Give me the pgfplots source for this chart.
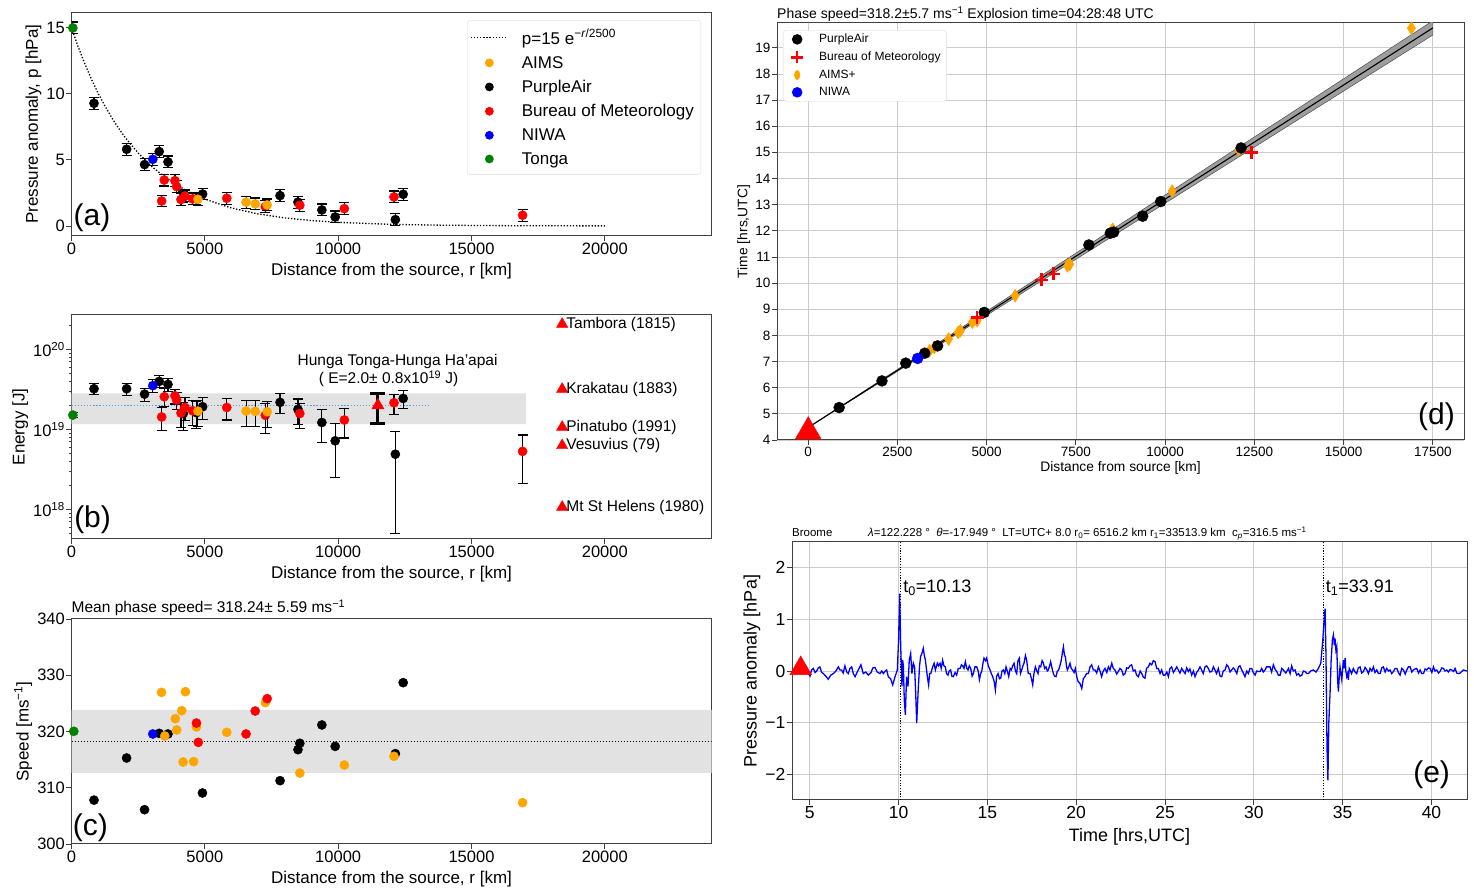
\documentclass[border=0pt]{standalone}
\usepackage{pgfplots}
\pgfplotsset{compat=1.18}
\usepackage{fontspec}
\setmainfont{Liberation Sans}
\definecolor{aims}{HTML}{FFA500}
\definecolor{bom}{HTML}{FF0000}
\definecolor{niwa}{HTML}{0000FF}
\definecolor{tonga}{HTML}{008000}
\definecolor{band}{HTML}{E2E2E2}
\definecolor{spine}{HTML}{404040}
\definecolor{meanline}{HTML}{5A9FD4}
\newcommand\fs[1]{\fontsize{#1}{#1}\selectfont}

\pgfplotsset{
  panel/.style={scale only axis, anchor=south west,
    axis line style={spine, line width=1pt},
    tick style={spine, line width=0.9pt}, major tick length=5pt,
    tick align=outside, tick pos=left,
    scaled ticks=false,
    /pgf/number format/assume math mode=true,
    /pgf/number format/1000 sep={},
    clip mode=individual,
    every axis title shift=0pt,
    tick label style={font=\fs{16.5}, inner sep=1.5pt},
    label style={font=\fs{17}},
    xlabel style={yshift=-4pt}},
  dot/.style={only marks, mark=*, mark size=4.6pt, color=#1, forget plot},
  errA/.style={error bars/y dir=both, error bars/y fixed=0.45,
    error bars/error mark=-,
    error bars/error bar style={black, line width=1.1pt},
    error bars/error mark options={black, line width=1.1pt, mark size=5pt, rotate=90}},
  errB/.style={error bars/y dir=both, error bars/y explicit,
    error bars/error mark=-,
    error bars/error bar style={black, line width=1.1pt},
    error bars/error mark options={black, line width=1.1pt, mark size=5pt, rotate=90}},
}

\begin{document}
\begin{tikzpicture}
\useasboundingbox (0,0) rectangle (1474pt,888pt);

% ---------------- (a) pressure anomaly
\begin{axis}[panel, at={(71.5pt,652pt)}, width=640pt, height=223.5pt,
  xmin=0, xmax=24000, ymin=-0.76, ymax=16.17,
  xtick={0,5000,10000,15000,20000}, ytick={0,5,10,15},
  xlabel={Distance from the source, r [km]},
  ylabel={Pressure anomaly, p [hPa]},
  legend style={at={(0.618,0.966)}, anchor=north west, draw=black!15,
    rounded corners=3pt, font=\fs{17}, row sep=4.5pt, inner ysep=6pt,
    nodes={inner ysep=3pt, inner xsep=4pt}},
  legend cell align=left]
\addplot[black, line width=1.3pt, dash pattern=on 1.3pt off 1.8pt, forget plot] coordinates {
 (0,15) (250,13.57) (500,12.28) (750,11.11) (1000,10.05) (1250,9.10) (1500,8.23)
 (1750,7.45) (2000,6.74) (2500,5.52) (3000,4.52) (3500,3.70) (4000,3.03) (4500,2.48)
 (5000,2.03) (6000,1.36) (7000,0.91) (8000,0.61) (9000,0.41) (10000,0.27) (12000,0.12)
 (14000,0.055) (16000,0.025) (18000,0.011) (20000,0.005)};
\addplot[dot=black, errA] coordinates {(844,9.29) (2067,5.81) (2739,4.65) (3290,5.63)
 (3618,4.85) (4191,2.2) (4686,2.05) (4917,2.42) (7820,2.3) (8492,1.8) (9388,1.21)
 (9888,0.68) (12145,0.48) (12438,2.4)};
\addplot[dot=niwa, errA] coordinates {(3049,5.05)};
\addplot[dot=bom, errA] coordinates {(3381,1.89) (3479,3.48) (3880,3.43) (3943,2.98)
 (4105,2.0) (4255,2.27) (4542,2.05) (5823,2.1) (7269,1.46) (8561,1.57) (10232,1.31)
 (12093,2.2) (16916,0.81)};
\addplot[dot=aims, errA] coordinates {(4741,2.02) (6546,1.8) (6890,1.67) (7338,1.59)};
\addplot[dot=tonga, errA] coordinates {(50,15.0)};
\addlegendimage{legend image code/.code={\path[draw=none,fill=none] (0pt,0pt) -- (47pt,0pt);
  \draw[black, solid, line width=1.3pt, dash pattern=on 1.3pt off 1.8pt] (0pt,0pt) -- (37pt,0pt);}}
\addlegendentry{p=15 e\textsuperscript{−\textit{r}/2500}}
\addlegendimage{legend image code/.code={\path[draw=none,fill=none] (0pt,0pt) -- (47pt,0pt); \fill[aims,draw=none] (18.5pt,0pt) circle (4.4pt);}}
\addlegendentry{AIMS}
\addlegendimage{legend image code/.code={\path[draw=none,fill=none] (0pt,0pt) -- (47pt,0pt); \fill[black,draw=none] (18.5pt,0pt) circle (4.4pt);}}
\addlegendentry{PurpleAir}
\addlegendimage{legend image code/.code={\path[draw=none,fill=none] (0pt,0pt) -- (47pt,0pt); \fill[bom,draw=none] (18.5pt,0pt) circle (4.4pt);}}
\addlegendentry{Bureau of Meteorology}
\addlegendimage{legend image code/.code={\path[draw=none,fill=none] (0pt,0pt) -- (47pt,0pt); \fill[niwa,draw=none] (18.5pt,0pt) circle (4.4pt);}}
\addlegendentry{NIWA}
\addlegendimage{legend image code/.code={\path[draw=none,fill=none] (0pt,0pt) -- (47pt,0pt); \fill[tonga,draw=none] (18.5pt,0pt) circle (4.4pt);}}
\addlegendentry{Tonga}
\node[anchor=base west, font=\fs{30}, inner sep=0pt] at (rel axis cs:0.003,0.045) {(a)};
\end{axis}

% ---------------- (b) energy
\begin{axis}[panel, at={(71.5pt,349pt)}, width=640pt, height=224pt,
  xmin=0, xmax=24000, ymode=log, ymin=0.0427, ymax=26.9,
  xtick={0,5000,10000,15000,20000},
  ytick={0.1,1,10}, yticklabels={10\textsuperscript{18},10\textsuperscript{19},10\textsuperscript{20}},
  minor ytick={0.05,0.06,0.07,0.08,0.09,0.2,0.3,0.4,0.5,0.6,0.7,0.8,0.9,2,3,4,5,6,7,8,9,20},
  minor tick length=2.5pt,
  xlabel={Distance from the source, r [km]},
  ylabel={Energy [J]}]
\addplot[fill=band, draw=none, forget plot] coordinates {(0,1.16) (17050,1.16) (17050,2.82) (0,2.82) (0,1.16)};
\addplot[color=meanline, line width=1.3pt, dash pattern=on 1.3pt off 1.8pt, forget plot] coordinates {(0,2.0) (13470,2.0)};
\addplot[dot=black, errB] coordinates {
 (844,3.22) +- (0,0.5) (2067,3.22) +- (0,0.57) (2739,2.76) +- (0,0.5)
 (3290,3.98) +- (0,0.68) (3618,3.65) +- (0,0.67) (4191,1.58) +- (0,0.6)
 (4686,1.62) +- (0,0.6) (4917,1.92) +- (0,0.6) (7820,2.18) +- (0,0.6)
 (8492,1.78) +- (0,0.62) (9388,1.22) +- (0,0.54) (9888,0.72) +- (0,0.47)
 (12145,0.49) +- (0,0.44) (12438,2.44) +- (0,0.63)};
\addplot[dot=niwa, errB] coordinates {(3049,3.52) +- (0,0.66)};
\addplot[dot=bom, errB] coordinates {
 (3381,1.43) +- (0,0.47) (3479,2.56) +- (0,0.65) (3880,2.63) +- (0,0.55)
 (3943,2.33) +- (0,0.55) (4105,1.60) +- (0,0.55) (4255,1.88) +- (0,0.6)
 (4542,1.71) +- (0,0.6) (5823,1.88) +- (0,0.57) (7269,1.50) +- (0,0.6)
 (8561,1.58) +- (0,0.55) (10232,1.31) +- (0,0.53) (12093,2.15) +- (0,0.6)
 (16916,0.531) +- (0,0.32)};
\addplot[dot=aims, errB] coordinates {
 (4741,1.69) +- (0,0.6) (6546,1.70) +- (0,0.6) (6890,1.68) +- (0,0.6) (7338,1.66) +- (0,0.6)};
\addplot[dot=tonga, errB] coordinates {(50,1.51) +- (0,0.1)};
\addplot[only marks, mark=triangle*, mark size=7pt, color=bom,
  forget plot, error bars/y dir=both, error bars/y explicit, error bars/error mark=-,
  error bars/error bar style={black, line width=3pt},
  error bars/error mark options={black, line width=3pt, mark size=7.5pt, rotate=90}]
  coordinates {(11490,2.0) +- (0,0.8)};
\addplot[only marks, mark=triangle*, mark size=6.5pt, color=bom,
  forget plot, nodes near coords, point meta=explicit symbolic,
  nodes near coords style={anchor=west, text=black, font=\fs{15.5}, inner sep=1pt, xshift=3pt}]
  coordinates {(18400,20.7) [Tambora (1815)] (18400,3.19) [Krakatau (1883)]
   (18400,1.07) [Pinatubo (1991)] (18400,0.63) [Vesuvius (79)] (18400,0.107) [Mt St Helens (1980)]};
\node[font=\fs{15.5}] at (axis cs:12230,7.0) {Hunga Tonga-Hunga Ha'apai};
\node[font=\fs{15.5}] at (axis cs:11890,4.25) {( E=2.0± 0.8x10\textsuperscript{19} J)};
\node[anchor=base west, font=\fs{30}, inner sep=0pt] at (rel axis cs:0.004,0.05) {(b)};
\end{axis}

% ---------------- (c) speed
\begin{axis}[panel, at={(71.5pt,44pt)}, width=640pt, height=225pt,
  xmin=0, xmax=24000, ymin=300, ymax=340,
  xtick={0,5000,10000,15000,20000}, ytick={300,310,320,330,340},
  xlabel={Distance from the source, r [km]},
  ylabel={Speed [ms\textsuperscript{−1}]},
  title={Mean phase speed= 318.24± 5.59 ms\textsuperscript{−1}},
  title style={at={(0,1)}, anchor=south west, font=\fs{15.5}, inner xsep=0pt, inner ysep=3pt}]
\addplot[fill=band, draw=none, forget plot] coordinates {(0,312.65) (24000,312.65) (24000,323.83) (0,323.83) (0,312.65)};
\addplot[black, line width=1.4pt, dash pattern=on 1.4pt off 1.6pt, forget plot] coordinates {(0,318.24) (24000,318.24)};
\addplot[dot=black] coordinates {(844,307.8) (2067,315.29) (2739,306.1) (3290,319.67) (3618,319.56)
 (4910,309.07) (7821,311.26) (8493,316.77) (8562,317.9) (9388,321.16) (9888,317.36)
 (12145,316.06) (12438,328.68)};
\addplot[dot=niwa] coordinates {(3049,319.56)};
\addplot[dot=aims] coordinates {(3376,326.96) (3497,319.2) (3893,322.28) (3945,320.27) (4134,323.7)
 (4186,314.58) (4272,327.08) (4582,314.64) (4686,320.8) (5823,319.85) (7270,325.13)
 (8562,312.62) (10232,314.04) (12093,315.59) (16916,307.35)};
\addplot[dot=bom] coordinates {(4686,321.5) (4755,318.07) (6546,319.56) (6890,323.64) (7338,325.84)};
\addplot[dot=tonga] coordinates {(86,320.03)};
\node[anchor=base west, font=\fs{30}, inner sep=0pt] at (rel axis cs:0.002,0.04) {(c)};
\end{axis}

% ---------------- (d) travel time
\begin{axis}[panel, at={(777pt,448pt)}, width=687pt, height=417pt,
  xmin=-875, xmax=18375, ymin=4, ymax=19.95,
  xtick={0,2500,5000,7500,10000,12500,15000,17500},
  ytick={4,5,...,19},
  grid=major, grid style={gray!40, line width=0.8pt},
  tick label style={font=\fs{13.5}, inner sep=1.5pt},
  label style={font=\fs{13.8}}, xlabel style={yshift=4pt},
  xlabel={Distance from source [km]},
  ylabel={Time [hrs,UTC]},
  title={Phase speed=318.2±5.7 ms\textsuperscript{−1} Explosion time=04:28:48 UTC},
  title style={at={(0,1)}, anchor=south west, font=\fs{14}, inner xsep=0pt, inner ysep=1pt},
  legend style={at={(0.0087,0.983)}, anchor=north west, draw=black!15,
    rounded corners=3pt, font=\fs{12}, row sep=3.5pt,
    nodes={inner ysep=2pt, inner xsep=3pt}},
  legend cell align=left]
\addplot[fill=black!38, draw=black!70, line width=0.5pt, forget plot] coordinates {(0,4.48) (17500,20.036) (17500,19.488) (0,4.48)};
\addplot[black, line width=1.1pt, forget plot] coordinates {(0,4.48) (17500,19.76)};
\addplot[only marks, mark=triangle*, mark size=15pt, color=bom, mark options={fill=bom, draw=none}, forget plot]
  coordinates {(0,4.32)};
\addplot[only marks, mark=diamond*, mark size=6.5pt, color=aims, mark options={xscale=0.85, fill=aims, draw=none}, forget plot]
  coordinates {(3399,7.41) (3532,7.54) (3932,7.86) (4198,8.11) (4265,8.18) (4598,8.50)
   (4731,8.56) (5798,9.52) (7264,10.66) (7330,10.72) (8530,12.06) (10196,13.52)
   (12062,15.10) (16900,19.75)};
\addplot[only marks, mark=*, mark size=5.5pt, color=black, mark options={fill=black, draw=none}, forget plot]
  coordinates {(866,5.24) (2066,6.26) (2732,6.94) (3265,7.32) (3625,7.60) (4931,8.88)
   (7864,11.46) (8464,11.91) (8560,11.95) (9370,12.56) (9876,13.12) (12129,15.17)};
\addplot[only marks, mark=+, mark size=6.5pt, color=bom, line width=2.8pt, forget plot]
  coordinates {(4731,8.69) (6531,10.12) (6864,10.35) (12422,14.99)};
\addplot[only marks, mark=*, mark size=5.5pt, color=niwa, mark options={fill=niwa, draw=none}, forget plot]
  coordinates {(3065,7.12)};
\addlegendimage{legend image code/.code={\path[draw=none,fill=none] (0pt,0pt) -- (30pt,0pt); \fill[black,draw=none] (11pt,0pt) circle (5.3pt);}}
\addlegendentry{PurpleAir}
\addlegendimage{legend image code/.code={\path[draw=none,fill=none] (0pt,0pt) -- (30pt,0pt);
  \draw[bom, solid, line width=2.6pt] (5pt,0pt) -- (17pt,0pt) (11pt,-6pt) -- (11pt,6pt);}}
\addlegendentry{Bureau of Meteorology}
\addlegendimage{legend image code/.code={\path[draw=none,fill=none] (0pt,0pt) -- (30pt,0pt);
  \fill[aims,draw=none] (11pt,-6.5pt) -- (15pt,0pt) -- (11pt,6.5pt) -- (7pt,0pt) -- cycle;}}
\addlegendentry{AIMS+}
\addlegendimage{legend image code/.code={\path[draw=none,fill=none] (0pt,0pt) -- (30pt,0pt); \fill[niwa,draw=none] (11pt,0pt) circle (5.3pt);}}
\addlegendentry{NIWA}
\node[anchor=base east, font=\fs{30}, inner sep=0pt] at (rel axis cs:0.987,0.036) {(d)};
\end{axis}

% ---------------- (e) Broome barogram
\begin{axis}[panel, at={(792pt,88pt)}, width=675pt, height=258pt,
  xmin=4, xmax=42, ymin=-2.5, ymax=2.5,
  xtick={5,10,...,40}, ytick={-2,-1,0,1,2}, yticklabels={−2,−1,0,1,2},
  grid=major, grid style={gray!40, line width=0.8pt},
  tick label style={font=\fs{17.5}, inner sep=1.5pt},
  label style={font=\fs{18}},
  xlabel={Time [hrs,UTC]},
  ylabel={Pressure anomaly [hPa]}]
\addplot[black, line width=1.2pt, dash pattern=on 1.2pt off 1.5pt, forget plot] coordinates {(10.13,-2.5) (10.13,2.5)};
\addplot[black, line width=1.2pt, dash pattern=on 1.2pt off 1.5pt, forget plot] coordinates {(33.91,-2.5) (33.91,2.5)};
\addplot[niwa, line width=1.3pt, forget plot] coordinates {
(4.0,0.02) (4.2,-0.02) (4.5,0.0) (4.8,0.03) (5.01,-0.1) (5.1,0.02) (5.2,0.05) (5.3,-0.03)
(5.39,0.0) (5.48,0.06) (5.57,0.08) (5.66,-0.02) (5.76,-0.05) (5.9,-0.1) (6.04,-0.16)
(6.18,-0.08) (6.33,-0.05) (6.47,0.0) (6.61,0.08) (6.7,0.02) (6.79,0.02) (6.88,-0.04)
(6.98,0.1) (7.08,-0.02) (7.17,-0.05) (7.26,0.05) (7.36,0.08) (7.45,-0.05) (7.55,-0.11)
(7.7,0.0) (7.88,0.12) (8.01,-0.05) (8.15,-0.02) (8.3,-0.08) (8.45,-0.03) (8.55,0.06)
(8.67,0.07) (8.8,-0.02) (8.95,-0.05) (9.05,0.0) (9.14,-0.05) (9.25,0.0) (9.33,0.02)
(9.42,-0.11) (9.55,-0.15) (9.67,-0.27) (9.8,-0.11) (9.93,0.02) (10.0,0.6) (10.06,1.5)
(10.12,0.47) (10.19,-0.3) (10.23,0.21) (10.27,0.1) (10.32,-0.56) (10.38,-0.85)
(10.45,-0.11) (10.53,-0.3) (10.6,0.21) (10.68,0.34) (10.75,-0.05) (10.83,0.15)
(10.9,0.08) (10.96,-0.4) (11.02,-1.01) (11.1,-0.4) (11.18,0.1) (11.24,0.28) (11.32,0.35)
(11.39,0.44) (11.45,0.3) (11.51,0.21) (11.62,-0.11) (11.69,-0.27) (11.75,-0.05)
(11.81,-0.05) (11.92,0.08) (12.0,0.15) (12.07,0.02) (12.18,0.15) (12.25,0.1) (12.33,0.15)
(12.4,0.05) (12.48,0.21) (12.55,0.1) (12.63,0.08) (12.7,-0.05) (12.78,-0.08) (12.85,0.0)
(12.93,0.02) (13.0,-0.1) (13.08,-0.11) (13.18,-0.03) (13.27,-0.08) (13.36,0.05)
(13.46,0.05) (13.54,0.12) (13.61,0.1) (13.68,0.05) (13.76,0.18) (13.84,0.05) (13.91,0.02)
(13.98,0.1) (14.06,0.05) (14.14,-0.1) (14.21,-0.05) (14.3,0.08) (14.4,0.08) (14.48,0.0)
(14.55,-0.17) (14.62,-0.05) (14.68,-0.01) (14.75,0.15) (14.81,0.25) (14.9,0.2)
(14.96,0.25) (15.05,0.1) (15.15,0.02) (15.22,-0.05) (15.3,-0.11) (15.38,-0.2)
(15.45,-0.37) (15.52,-0.1) (15.6,-0.05) (15.68,-0.15) (15.75,-0.14) (15.82,0.0)
(15.9,0.02) (15.98,-0.05) (16.05,0.08) (16.12,0.0) (16.2,-0.11) (16.28,0.05) (16.35,0.02)
(16.42,0.1) (16.5,0.15) (16.58,0.0) (16.65,-0.05) (16.72,0.2) (16.8,0.25) (16.86,-0.05)
(16.93,0.02) (17.0,0.1) (17.06,0.15) (17.14,0.3) (17.21,0.21) (17.3,-0.05) (17.4,-0.05)
(17.48,-0.15) (17.55,-0.27) (17.62,-0.05) (17.7,0.08) (17.78,0.0) (17.85,-0.05)
(17.92,0.1) (18.0,0.08) (18.08,0.2) (18.15,0.16) (18.22,0.05) (18.3,0.08) (18.37,0.0)
(18.43,0.02) (18.5,0.1) (18.56,0.18) (18.64,0.05) (18.71,-0.05) (18.78,-0.1) (18.86,-0.11)
(18.94,0.0) (19.01,0.02) (19.08,0.1) (19.16,0.21) (19.22,0.35) (19.28,0.47) (19.34,0.3)
(19.39,0.28) (19.45,0.1) (19.5,0.02) (19.58,0.08) (19.65,0.15) (19.72,0.05) (19.8,0.02)
(19.88,-0.03) (19.95,0.05) (20.03,-0.11) (20.1,-0.2) (20.21,-0.24) (20.31,-0.34)
(20.4,-0.15) (20.49,-0.11) (20.58,-0.05) (20.68,-0.05) (20.78,0.08) (20.87,0.12)
(20.96,0.02) (21.06,0.02) (21.15,-0.04) (21.25,0.08) (21.34,0.0) (21.43,-0.11) (21.52,0.0)
(21.62,0.05) (21.72,-0.03) (21.81,0.08) (21.9,0.02) (22.0,0.15) (22.09,0.05) (22.18,0.02)
(22.28,-0.06) (22.37,-0.01) (22.46,0.05) (22.56,0.02) (22.65,-0.08) (22.75,-0.05)
(22.84,0.06) (22.93,0.05) (23.02,0.1) (23.12,0.12) (23.21,0.0) (23.31,0.02) (23.4,-0.08)
(23.5,-0.11) (23.6,0.0) (23.69,-0.05) (23.78,-0.12) (23.87,-0.14) (23.96,0.05) (24.06,0.08)
(24.15,0.15) (24.25,0.12) (24.34,0.2) (24.44,0.18) (24.53,0.05) (24.62,0.05) (24.72,-0.05)
(24.81,0.02) (24.9,-0.08) (25.0,-0.08) (25.1,-0.02) (25.19,-0.11) (25.28,0.05) (25.37,0.08)
(25.47,-0.03) (25.56,0.02) (25.66,0.08) (25.75,0.02) (25.84,-0.04) (25.94,0.05) (26.03,0.0)
(26.13,-0.05) (26.22,0.06) (26.31,-0.01) (26.4,0.04) (26.5,-0.08) (26.6,0.0) (26.69,-0.11)
(26.78,-0.03) (26.88,0.02) (26.97,0.08) (27.06,0.02) (27.15,-0.05) (27.25,0.08) (27.34,0.1)
(27.44,0.05) (27.53,-0.02) (27.63,-0.01) (27.72,0.08) (27.81,0.02) (27.9,-0.05) (28.0,0.05)
(28.1,-0.1) (28.19,-0.11) (28.28,0.0) (28.38,0.02) (28.47,0.12) (28.57,0.08) (28.66,-0.02)
(28.75,0.02) (28.85,0.06) (28.94,0.02) (29.04,-0.05) (29.13,0.08) (29.22,0.1) (29.32,0.02)
(29.41,-0.04) (29.5,-0.11) (29.6,0.0) (29.69,-0.05) (29.78,0.05) (29.88,0.05) (29.97,-0.03)
(30.07,-0.08) (30.16,0.0) (30.25,-0.01) (30.35,-0.01) (30.44,0.05) (30.53,-0.02)
(30.63,0.02) (30.72,0.08) (30.82,0.08) (30.91,0.08) (31.0,-0.02) (31.1,0.12) (31.2,0.03)
(31.29,-0.01) (31.38,-0.08) (31.48,-0.08) (31.57,0.05) (31.66,0.02) (31.8,-0.04)
(31.95,0.05) (32.04,-0.05) (32.13,0.1) (32.22,0.0) (32.32,0.02) (32.41,-0.08) (32.51,-0.05)
(32.6,-0.1) (32.7,-0.08) (32.79,0.0) (32.88,-0.01) (32.98,-0.05) (33.07,-0.05) (33.2,0.0)
(33.35,0.02) (33.5,-0.02) (33.63,0.05) (33.77,0.15) (33.88,0.6) (33.96,1.0) (34.01,1.21)
(34.06,0.3) (34.12,-1.5) (34.17,-2.12) (34.22,-1.0) (34.29,-0.43) (34.35,0.2) (34.42,0.6)
(34.48,0.7) (34.53,0.5) (34.57,0.63) (34.62,0.4) (34.67,0.47) (34.72,-0.2) (34.76,-0.4)
(34.81,-0.1) (34.85,0.08) (34.9,-0.05) (34.95,-0.17) (35.0,0.05) (35.04,0.21) (35.09,0.05)
(35.14,0.25) (35.18,0.0) (35.23,-0.11) (35.28,-0.05) (35.32,-0.17) (35.37,0.05) (35.42,0.02)
(35.5,-0.05) (35.6,0.05) (35.7,-0.02) (35.79,-0.05) (35.88,0.06) (35.98,0.08) (36.07,-0.04)
(36.17,-0.01) (36.26,0.07) (36.36,0.02) (36.45,-0.05) (36.54,0.05) (36.64,0.0) (36.73,0.08)
(36.82,-0.03) (36.92,0.02) (37.01,-0.05) (37.11,-0.05) (37.2,0.06) (37.29,0.08) (37.39,-0.02)
(37.48,0.05) (37.58,0.0) (37.67,0.02) (37.76,-0.05) (37.86,-0.01) (37.95,0.05) (38.05,0.05)
(38.14,-0.03) (38.23,-0.08) (38.33,0.05) (38.42,0.02) (38.52,-0.06) (38.61,0.02) (38.7,0.08)
(38.8,0.08) (38.89,-0.02) (38.98,0.02) (39.08,0.04) (39.17,0.05) (39.27,-0.04) (39.36,0.02)
(39.45,-0.05) (39.55,-0.05) (39.64,0.04) (39.73,0.02) (39.83,0.06) (39.92,0.05) (40.02,-0.03)
(40.11,0.08) (40.2,0.0) (40.3,0.02) (40.39,-0.04) (40.48,-0.01) (40.58,0.06) (40.67,0.05)
(40.76,0.0) (40.86,0.02) (40.95,-0.02) (41.05,0.03) (41.14,0.02) (41.24,-0.01) (41.33,0.05)
(41.42,-0.04) (41.52,-0.05) (41.61,-0.04) (41.8,0.02) (41.99,0.0)};
\addplot[only marks, mark=triangle*, mark size=12.5pt, color=bom, mark options={fill=bom, draw=none}, forget plot]
  coordinates {(4.49,0.05)};
\node[anchor=west, font=\fs{18}, inner sep=1pt] at (axis cs:10.2,1.61) {t\textsubscript{0}=10.13};
\node[anchor=west, font=\fs{18}, inner sep=1pt] at (axis cs:33.98,1.61) {t\textsubscript{1}=33.91};
\node[anchor=base west, font=\fs{11.5}, inner sep=0pt] at ([yshift=5pt]rel axis cs:0,1) {Broome};
\node[anchor=base west, font=\fs{11.5}, inner sep=0pt] at ([yshift=5pt]rel axis cs:0.1126,1)
  {\textit{λ}=122.228 ° \ \textit{θ}=-17.949 ° \ LT=UTC+ 8.0 r\textsubscript{0}= 6516.2 km r\textsubscript{1}=33513.9 km\ \ c\textsubscript{\textit{p}}=316.5 ms\textsuperscript{−1}};
\node[anchor=base east, font=\fs{30}, inner sep=0pt] at (rel axis cs:0.975,0.066) {(e)};
\end{axis}
\end{tikzpicture}
\end{document}
